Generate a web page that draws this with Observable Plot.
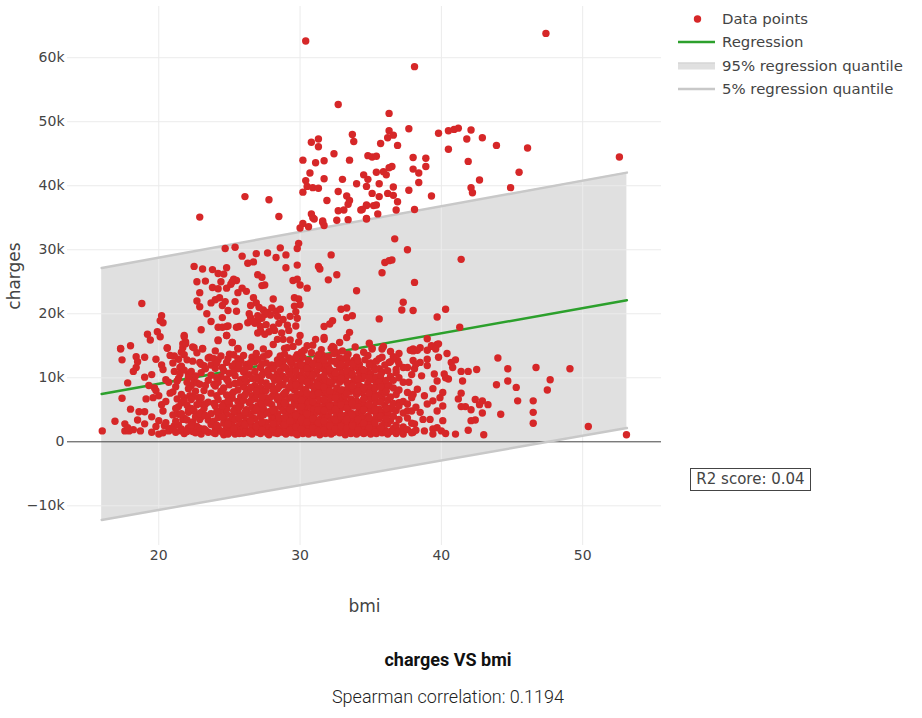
<!DOCTYPE html>
<html><head><meta charset="utf-8">
<script src="https://cdn.jsdelivr.net/npm/d3@7"></script>
<script src="https://cdn.jsdelivr.net/npm/@observablehq/plot@0.6"></script>
<style>
body{margin:0;background:#fff;}
#wrap{position:relative;width:922px;height:718px;font-family:"DejaVu Sans",Verdana,sans-serif;color:#444;overflow:hidden;}
#chart{position:absolute;left:0;top:0;}
.leg{position:absolute;left:678px;height:20px;display:flex;align-items:center;font-size:14.9px;color:#444;white-space:nowrap;}
.leg svg{width:37px;height:20px;margin-right:7px;flex:none;}
#r2{position:absolute;left:690px;top:468px;width:119px;height:21px;border:1px solid #444;font-size:15px;line-height:21px;text-align:center;color:#444;background:#fff;}
#title{position:absolute;left:0;width:896px;top:649px;text-align:center;font-family:Roboto,sans-serif;font-weight:700;font-size:18px;color:#111;}
#sub{position:absolute;left:0;width:896px;top:686px;text-align:center;font-family:Roboto,sans-serif;font-weight:300;font-size:18px;color:#222;}
#chart svg g[aria-label="x-axis label"] text, #chart svg g[aria-label="y-axis label"] text{font-size:17px;}
</style>
</head><body>
<div id="wrap">
<div id="chart"></div>
<div class="leg" style="top:9px"><svg><circle cx="19.5" cy="10" r="3.7" fill="#d62728"/></svg>Data points</div>
<div class="leg" style="top:32px"><svg><line x1="0" x2="37" y1="10" y2="10" stroke="#2ca02c" stroke-width="2.5"/></svg>Regression</div>
<div class="leg" style="top:56px"><svg><rect x="0" y="6.5" width="37" height="7" fill="#e0e0e0"/><line x1="0" x2="37" y1="7" y2="7" stroke="#d0d0d0" stroke-width="1"/></svg>95% regression quantile</div>
<div class="leg" style="top:79px"><svg><line x1="0" x2="37" y1="10" y2="10" stroke="#c8c8c8" stroke-width="2.5"/></svg>5% regression quantile</div>
<div id="r2">R2 score: 0.04</div>
<div id="title">charges VS bmi</div>
<div id="sub">Spearman correlation: 0.1194</div>
</div>
<script>
// ---- data (bmi, charges in thousands) ----
const xTicks = [20, 30, 40, 50];
const yTicks = [-10000, 0, 10000, 20000, 30000, 40000, 50000, 60000];

// regression band endpoints
const bandBmi = [15.96, 53.13];
const regLine = [7480, 22120];
const upperQ = [27150, 42050];
const lowerQ = [-12200, 2150];

const smokerHigh = [
[30.4,62.6],[32.7,52.7],[33.7,48.0],[33.8,46.9],[31.3,47.3],[30.8,46.8],[31.3,46.1],[32.4,45.0],[34.8,44.7],[30.2,44.0],[31.1,43.6],[31.7,43.9],[33.5,44.0],[30.7,42.0],[34.5,41.7],[31.7,41.1],[33.0,41.0],[30.4,40.8],[34.0,40.3],[34.7,39.9],[30.5,39.9],[30.9,39.7],[31.3,39.6],[30.2,39.0],[32.7,39.1],[33.3,38.4],[31.9,37.7],[33.5,37.7],[26.1,38.3],[27.8,37.8],[22.9,35.1],[28.5,35.2],[30.8,35.6],[33.4,37.1],[33.1,36.2],[32.7,36.1],[34.3,36.2],[34.7,36.9],[31.6,34.5],[32.6,34.6],[33.4,34.7],[30.9,35.0],
[47.4,63.8],[38.1,58.6],[36.3,51.3],[36.3,48.6],[36.2,47.5],[36.6,47.9],[37.7,48.9],[35.7,46.6],[36.9,46.3],[39.8,48.2],[40.5,48.6],[40.9,48.8],[41.2,49.0],[42.1,48.7],[41.8,47.3],[42.9,47.5],[43.9,46.3],[46.1,45.9],[52.6,44.5],[40.5,45.7],[41.9,43.8],[45.5,42.1],[42.7,40.9],[44.9,39.7],[42.1,39.7],[42.2,38.9],[39.3,38.4],[35.1,44.5],[35.4,44.6],[38.0,44.4],[38.9,44.3],[38.9,43.0],[38.0,42.6],[38.4,42.0],[36.5,43.0],[36.3,42.8],[35.9,42.2],[35.4,42.1],[36.1,41.7],[34.8,41.0],[35.6,40.3],[36.6,39.8],[38.4,40.5],[37.7,39.3],[35.1,38.8],[36.2,38.8],[36.6,38.5],[35.6,38.3],[36.9,37.5],[34.7,37.0],[35.4,37.0],[35.2,36.9],[34.4,36.3],[36.8,36.2],[38.1,36.3],[35.5,35.6],[34.7,34.9],
[31.0,34.8],[31.6,34.3],[31.7,33.8],[30.2,34.1],[30.0,33.4],[30.6,33.6],[34.7,34.8]
];

const midBand = [
[24.7,30.2],[25.4,30.4],[25.9,29.0],[26.9,29.4],[27.7,29.5],[28.6,30.3],[28.3,28.8],[29.0,29.2],[29.8,30.2],[29.9,31.0],[26.3,27.9],[26.7,28.1],[22.5,27.4],[23.1,27.0],[23.8,26.9],[24.2,26.3],[24.6,26.2],[24.8,27.2],[29.0,27.2],[29.8,27.6],[31.3,27.4],[31.4,27.0],[32.2,29.2],[32.6,26.1],[32.0,25.3],[34.0,23.6],[22.7,25.0],[23.3,25.1],[22.9,23.3],[18.8,21.6],[23.8,24.1],[24.2,23.9],[24.4,25.0],[24.8,24.0],[25.1,24.6],[25.3,25.4],[25.5,25.2],[25.2,25.0],[25.6,23.3],[25.9,24.0],[26.2,23.5],[27.0,26.1],[27.3,25.7],[27.5,24.5],[27.3,24.4],[22.7,22.0],[22.9,21.1],[23.7,21.7],[24.0,22.2],[24.3,22.5],[24.7,21.9],[24.5,21.3],[24.9,20.5],[25.4,21.9],[25.5,20.4],[26.7,22.5],[26.9,21.7],[26.5,21.3],[28.1,22.3],[29.6,22.5],[29.9,22.3],[30.0,21.4],[29.6,21.2],[29.7,20.3],[29.3,19.6],[29.8,19.3],[29.7,18.1],[30.5,24.0],[29.5,25.2],[29.8,25.4],[30.0,24.5],
[27.1,21.0],[27.4,20.6],[27.7,20.2],[28.0,20.9],[28.3,20.4],[28.6,20.7],[28.4,19.6],[27.9,19.8],[27.5,19.9],[27.3,19.3],[27.0,18.9],[26.8,18.5],[27.2,18.0],[27.6,18.3],[28.1,17.9],[28.5,18.5],[28.8,19.1],[28.2,17.4],[27.8,17.2],[27.2,17.3],[27.0,17.0],[29.1,18.2],[29.2,17.4],[28.7,17.0],[27.5,16.8],
[32.9,20.7],[33.3,20.9],[33.3,19.4],[33.7,19.7],[32.3,18.9],[32.1,18.4],[31.7,18.0],[33.5,17.1],[31.7,16.0],[32.8,15.5],[32.4,14.7],[32.2,14.6],
[23.4,20.0],[23.7,18.8],[23.0,17.5],[24.2,17.9],[24.5,19.4],[24.5,17.9],[24.8,18.0],[24.8,16.6],[24.9,18.1],[25.5,17.9],[25.7,18.0],[25.2,15.5],[24.2,15.9],[25.6,14.6],
[26.4,20.0],[26.5,19.4],[26.3,18.6],[26.7,18.8],[27.0,19.7],
[30.0,16.6],[30.5,15.0],[29.3,15.9],[28.8,16.0],[28.4,16.0],[29.1,14.7],
[20.2,19.7],[20.1,18.9],[20.3,18.6],[19.2,16.8],[19.4,15.9],[20.1,16.4],[19.9,17.2],[18.0,15.0],[17.3,14.6],[20.6,14.7],[21.8,16.4],[21.9,15.6],[21.7,14.7],[22.5,14.7],[23.1,14.6],
[36.7,31.7],[37.6,30.0],[36.0,28.0],[36.3,28.3],[36.5,28.4],[41.4,28.5],[35.8,26.4],[38.1,24.9],[37.3,21.8],[37.2,20.6],[38.0,20.5],[40.3,20.7],[39.7,19.5],[35.6,19.2],[41.3,17.9],[39.0,16.1],[39.3,14.9],[39.7,15.2],[38.0,14.5],[37.8,14.3],[35.8,14.5],[35.1,14.6],
[31.7,16.3],[33.3,16.3],[35.1,14.5],[28.6,13.2],
[28.9,14.6],[29.5,14.9],[30.3,14.3],[30.9,15.1],[31.5,14.4],[32.3,14.9],[33.0,14.2],[33.9,14.8],[34.5,14.0],[27.4,14.5],[26.5,14.8],[29.9,15.6],[31.1,16.0],[32.6,13.9],[28.1,15.2],[35.9,14.9],[36.4,14.1],[37.0,13.8],[34.9,15.4]
];

const lowerRight = [
[44.0,13.1],[44.7,11.4],[46.7,11.6],[49.1,11.4],[42.5,11.3],[41.9,11.0],[41.4,11.0],[41.5,9.5],[43.9,8.9],[44.7,9.5],[45.3,8.5],[47.7,9.7],[47.5,8.1],[41.4,7.6],[42.4,6.6],[42.9,6.4],[43.3,5.8],[42.7,5.8],[41.7,5.5],[42.1,5.0],[42.9,4.5],[45.4,6.4],[46.5,6.4],[46.5,4.6],[46.5,2.9],[44.2,4.3],[42.1,3.3],[42.4,3.4],[41.9,1.8],[43.0,1.1],[50.4,2.4],[53.1,1.1],
[39.8,15.3],[39.3,15.0],[39.6,14.5],[39.0,14.3],[38.5,14.7],[38.0,14.2],[38.3,14.3],[40.4,13.8],[39.8,13.2],[40.7,12.4],[40.8,11.6],[40.2,10.6],[40.5,9.8],[39.5,10.6],[39.7,9.5],[39.0,11.9],[39.0,12.9],[38.5,12.4],[38.0,12.7],[38.1,11.4],[38.6,10.3],[41.2,6.7],[41.4,5.5],[40.1,7.7],[39.9,6.9],[39.4,6.4],[40.1,5.6],[39.7,4.8],[39.0,5.9],[38.5,4.6],[39.2,3.5],[38.7,3.5],[40.1,3.3],[39.7,2.2],[40.0,1.7],[39.4,2.0],[38.1,2.8],[38.0,1.5],[37.3,2.0],[36.9,1.7],[37.6,4.8],[38.0,7.4],[38.3,8.2],[37.7,9.3],[36.9,8.0],[37.0,6.1],[36.5,5.1],[35.6,4.3],[35.2,7.2],[35.7,9.8],[36.3,8.8],[36.8,10.8],[37.3,11.6],[36.9,12.7],[36.3,12.4],[35.8,13.2]
];

const lowerLeft = [
[16.0,1.7],[16.9,3.2],[17.6,2.8],[17.6,1.7],[17.9,1.7],[18.7,1.7],[18.0,5.1],[18.6,4.7],[19.0,4.7],[17.4,6.8],[19.1,6.7],[19.6,6.9],[20.0,7.2],[20.2,5.8],[20.3,4.8],[20.0,3.3],[20.4,2.5],[20.7,1.7],[20.0,1.2],[19.3,8.8],[19.7,8.4],[20.7,9.3],[17.3,14.5],[17.4,12.8],[18.4,13.3],[18.4,11.6],[20.2,12.0],[20.6,14.6],
[21.1,11.0],[21.4,12.9],[21.5,11.6],[21.1,13.4],[21.6,14.0],[21.7,15.3],[21.8,16.6],[21.9,15.3],[22.4,14.8],[23.1,14.5],[23.0,12.1],[23.6,13.2],[24.2,15.8],[24.8,16.6],[25.2,15.5],[25.6,14.5],
[21.3,9.5],[21.5,10.6],[22.1,10.6],[22.3,8.8],[22.5,9.5],[21.8,6.9],[21.3,6.7],[21.6,6.1],[22.2,7.2],[22.8,6.9],[21.4,4.3],[21.7,3.5],[22.1,4.6],[22.5,4.8],[22.9,3.5],[21.1,2.5],[21.6,1.7],[22.3,2.0],[22.9,1.7],
[19.5,1.5],[19.5,3.9],[19.5,10.5],[19.8,2.4],[19.8,12.9],[19.8,8.0],[20.3,1.4],[20.3,11.3],[20.5,3.0],[20.5,6.3],[20.5,9.7],[20.8,2.1],[20.8,13.5],[20.8,7.6],[18.2,1.9],[18.2,11.0],[17.8,2.2],[17.8,9.2],[18.5,3.4],[18.5,12.5],[19.0,2.8],[19.0,10.1],[19.0,13.2]
];

// dense non-smoker band: bmi columns and the charges read in each
const coreBmi = [21.0,21.4,21.8,22.1,22.4,22.7,23.0,23.2,23.5,23.7,24.0,24.2,24.4,24.6,24.8,25.0,25.2,25.4,25.6,25.8,26.0,26.2,26.4,26.6,26.8,27.0,27.2,27.4,27.6,27.8,28.0,28.2,28.4,28.6,28.8,29.0,29.2,29.4,29.6,29.8,30.0,30.2,30.4,30.6,30.8,31.0,31.2,31.4,31.6,31.8,32.0,32.2,32.4,32.6,32.8,33.0,33.2,33.4,33.6,33.8,34.0,34.2,34.4,34.6,34.8,35.0,35.2,35.4,35.6,35.8,36.0,36.2,36.4,36.6,36.8,37.0,37.3,37.6,37.9,38.2,38.8,39.4,40.3,41.0];
const coreCharges = [
[1.9,4.2,7.8,12.3],[2.6,5.5,9.9],[1.3,3.7,6.4,11.2,13.6],[2.2,4.9,8.3,10.1],[1.6,3.1,7.1,12.6],[2.4,5.8,9.2,13.9],[1.2,3.9,6.9,10.8,4.6],[2.0,8.0,11.9,5.2],[1.5,3.4,6.2,9.6,13.1],[2.7,4.4,7.6,10.4,12.0],
[1.3,1.9,5.6,8.7,11.5,14.2],[2.3,3.8,6.6,9.3,12.8],[1.7,4.9,7.9,10.2,13.4],[1.1,2.9,6.0,8.4,11.1,3.6],[2.1,4.3,7.3,9.8,12.4,5.1],[1.5,3.2,5.9,8.9,10.7,13.7],[1.9,2.6,6.8,7.5,11.8,4.0],[1.2,3.5,5.3,9.1,12.2,10.3],[2.4,4.6,6.3,8.1,11.4,13.0],[1.6,1.9,3.0,7.0,9.7,12.7,5.7],
[2.2,4.1,6.5,8.6,10.9,13.5,1.3],[1.8,3.3,5.0,7.7,9.4,12.1],[2.9,4.4,6.1,8.2,10.5,11.7,1.4],[1.2,2.5,5.4,7.2,9.9,13.2,3.8],[1.7,3.6,4.8,6.7,8.8,11.0,12.5],[2.0,2.8,5.6,7.4,10.1,12.9,1.5],[1.3,3.9,6.2,8.5,9.5,11.6,4.5],[2.3,4.2,5.2,7.9,10.8,13.3,1.9],[1.6,3.0,6.9,8.0,9.2,12.3,2.7],[1.1,2.2,4.7,6.4,10.4,11.3,13.8],
[1.8,3.4,5.8,7.1,8.7,12.0,4.0],[2.5,3.7,5.1,7.6,9.6,11.9,1.4],[1.3,2.1,4.4,6.6,8.3,10.6,12.8,3.2],[1.9,3.1,5.5,6.0,9.0,11.1,13.4],[1.5,2.6,4.9,7.3,8.9,10.2,12.6,6.3],[1.2,2.3,3.5,5.9,7.8,9.8,11.5,4.6],[1.7,2.9,4.1,6.8,8.4,10.9,13.1,5.3],[1.4,2.0,3.8,5.4,7.0,9.3,12.2,11.2],[1.9,2.7,4.5,6.1,8.1,10.0,12.9,3.3],[1.1,2.4,3.6,5.7,7.5,9.1,11.8,13.6,6.6],
[1.6,2.2,4.3,5.0,7.2,8.6,10.4,12.4,3.0],[1.3,2.8,3.9,6.4,7.7,9.5,11.3,13.2,4.8],[1.8,2.5,4.7,5.6,8.2,10.3,12.0,6.9],[1.2,2.1,3.4,6.2,7.4,9.0,10.8,12.7,4.1],[1.7,3.0,4.4,5.3,8.8,9.9,11.6,13.9,6.7],[1.4,2.6,3.7,6.0,7.9,8.5,10.6,12.3,5.1],[1.9,2.3,4.6,5.8,7.1,9.4,11.1,13.0,3.2],[1.1,2.9,3.5,6.5,8.3,10.1,12.5,4.9],[1.6,2.4,4.2,5.5,7.6,9.2,11.4,13.5],[1.3,2.0,3.8,6.3,8.0,9.7,10.9,12.1,5.0],
[1.8,2.7,4.0,5.2,7.3,8.7,11.7,13.3,6.1],[1.2,3.3,4.8,6.8,9.0,10.5,12.6,2.1],[1.5,2.5,3.6,5.7,7.8,9.6,11.0,13.8],[1.9,2.2,4.3,6.0,8.4,10.2,12.2,5.1],[1.4,3.0,4.6,6.6,7.5,9.3,11.5,13.1],[1.7,2.6,3.9,5.4,8.1,10.7,12.9,6.9],[1.1,2.3,4.1,6.2,7.2,9.8,11.8,3.4],[1.6,2.8,5.0,5.9,8.6,10.4,12.4,13.7],[1.3,3.5,4.5,6.7,7.9,9.1,11.2],[1.8,2.1,3.7,5.6,8.3,10.0,12.7,6.3],
[1.2,2.9,4.4,6.4,7.4,9.5,11.6,13.2],[1.5,2.4,3.2,5.3,8.8,10.8,12.1],[1.9,3.8,4.7,6.1,7.7,9.9,11.3,2.6],[1.4,2.2,5.2,6.9,8.2,10.3,12.8],[1.7,3.1,4.0,5.8,7.1,9.2,11.0,13.5],[1.2,2.7,4.8,6.6,8.5,10.6,12.3],[1.6,3.4,5.5,7.9,9.7,11.7,2.3],[1.3,2.0,4.2,6.2,8.9,10.1,12.6],[1.9,3.6,5.1,7.3,9.4,11.4,13.0],[1.4,2.5,4.6,6.8,8.0,10.9],
[1.8,3.0,5.7,7.6,9.0,12.0,4.1],[1.2,2.8,4.4,6.5,8.7,11.1],[1.6,3.3,5.3,7.0,10.2,12.5],[2.1,4.0,6.0,8.4,9.6,13.3],[1.3,2.6,4.9,7.4,11.3],[1.7,3.5,5.6,8.1,10.0,12.2],[1.2,2.3,4.5,6.3,9.3],[1.9,3.7,5.9,7.7,11.6],[1.4,2.9,4.8,6.9,10.5],[1.8,5.4,12.1],[1.7,7.2],[1.2,8.3],[1.3,10.0],[1.2,12.8]
];

// second pass over the dense band (points between the columns above)
const core2Bmi = [21.2,21.6,22.0,22.3,22.6,22.9,23.3,23.9,24.1,24.5,24.9,25.3,25.7,26.1,26.5,26.9,27.3,27.7,28.1,28.5,28.9,29.3,29.7,30.1,30.5,30.9,31.3,31.7,32.1,32.5,32.9,33.3,33.7,34.1,34.5,34.9,35.3,35.7,36.1];
const core2Charges = [
[1.5,3.2,5.2,8.6],[2.0,4.4,7.4,11.8],[1.6,3.4,5.7,9.3,12.8],[2.6,5.2,6.6,11.0],[1.4,3.9,7.9,10.3],[2.1,4.4,6.0,9.0,12.4],
[1.8,4.1,5.9,8.8,11.4],[1.4,3.2,6.0,9.0,13.0],[2.6,4.7,7.2,10.0,12.3],[1.5,3.9,5.6,8.0,11.6],[2.8,6.4,9.5,13.0,1.2],[2.0,4.8,7.8,10.9,13.6],[1.3,3.8,5.4,9.2,12.0],
[2.7,4.6,7.3,9.9,11.3],[1.6,3.3,6.4,8.5,12.4],[2.4,5.1,7.9,9.9,13.8],[1.8,3.1,5.9,7.0,10.4,12.2],[1.3,4.5,6.1,8.7,11.1,13.6],[2.0,2.8,4.9,8.1,10.1,11.4],[1.5,3.8,7.0,8.6,9.6,12.2],[2.7,3.8,6.0,7.6,11.7,13.7],
[1.8,3.2,5.0,8.7,10.4,12.6],[1.3,2.3,4.1,6.9,8.9,11.0,13.2],[2.0,3.5,5.5,6.5,9.8,12.0,14.0],[1.5,3.1,4.4,7.6,9.3,11.5],[2.1,3.6,6.3,7.3,10.4,12.2],[1.6,3.0,5.0,7.6,8.8,11.9,13.6],[1.9,3.2,4.9,6.6,8.6,10.3,12.8],
[1.5,2.5,5.6,7.9,9.4,11.3],[2.0,3.4,5.1,6.9,10.7,12.6],[1.6,2.4,4.0,5.8,8.1,9.9,12.1],[2.1,3.5,5.3,7.6,9.3,11.1,13.2],[1.6,2.5,4.2,6.0,8.7,10.6,12.1],[1.9,3.5,5.5,7.9,9.8,12.7],[1.3,2.9,5.0,6.7,8.5,11.2],
[2.2,3.7,5.8,7.6,10.0,12.0],[1.5,2.9,5.0,7.0,8.4,11.2],[2.2,4.0,6.2,8.6,10.4],[1.5,3.6,5.2,7.9,9.6]
];

// ---- build table ----
const points = [...smokerHigh, ...midBand, ...lowerRight, ...lowerLeft]
  .map(([b, c]) => ({bmi: b, charges: c * 1000}));
coreBmi.forEach((b, i) => coreCharges[i].forEach(c => points.push({bmi: b, charges: c * 1000})));
core2Bmi.forEach((b, i) => core2Charges[i].forEach(c => points.push({bmi: b, charges: c * 1000})));
const band = bandBmi.map((b, i) => ({bmi: b, reg: regLine[i], hi: upperQ[i], lo: lowerQ[i]}));

const chart = Plot.plot({
  width: 922, height: 620,
  marginLeft: 67, marginRight: 261, marginTop: 6, marginBottom: 75,
  style: {fontFamily: "DejaVu Sans, Verdana, sans-serif", fontSize: "14px", color: "#444", background: "transparent", overflow: "visible"},
  x: {domain: [13.54, 55.58]},
  y: {domain: [-16200, 68000]},
  marks: [
    Plot.areaY(band, {x: "bmi", y1: "lo", y2: "hi", fill: "#e0e0e0"}),
    Plot.gridX(xTicks, {stroke: "#ebebeb", strokeOpacity: 1, strokeWidth: 1}),
    Plot.gridY(yTicks.filter(d => d !== 0), {stroke: "#ebebeb", strokeOpacity: 1, strokeWidth: 1}),
    Plot.ruleY([0], {stroke: "#444", strokeWidth: 1}),
    Plot.line(band, {x: "bmi", y: "hi", stroke: "#c8c8c8", strokeWidth: 2.5}),
    Plot.line(band, {x: "bmi", y: "lo", stroke: "#c8c8c8", strokeWidth: 2.5}),
    Plot.line(band, {x: "bmi", y: "reg", stroke: "#2ca02c", strokeWidth: 2.5}),
    Plot.dot(points, {x: "bmi", y: "charges", r: 3.7, fill: "#d62728"}),
    Plot.axisX(xTicks, {tickSize: 0, tickPadding: 5, label: "bmi", labelAnchor: "center", labelOffset: 66, labelArrow: "none"}),
    Plot.axisY(yTicks, {tickSize: 0, tickPadding: 3, tickFormat: d3.format("~s"), label: "charges", labelAnchor: "center", labelOffset: 60, labelArrow: "none"})
  ]
});
document.getElementById("chart").appendChild(chart);
</script>
</body></html>
